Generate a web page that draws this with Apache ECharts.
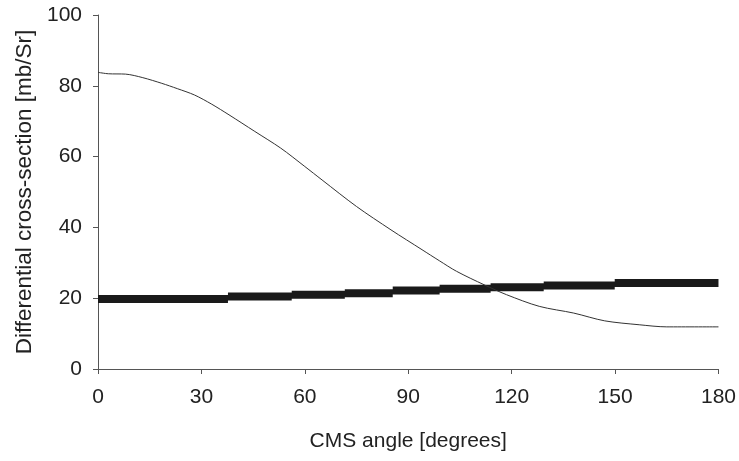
<!DOCTYPE html>
<html>
<head>
<meta charset="utf-8">
<script src="https://cdn.jsdelivr.net/npm/echarts@6/dist/echarts.min.js"></script>
<style>html,body{margin:0;padding:0;background:#fff;}#c{width:739px;height:461px;}</style>
</head>
<body>
<div id="c"></div>
<script>
var xTicks = [0, 30, 60, 90, 120, 150, 180];
var yTicks = [0, 20, 40, 60, 80, 100];
// thin curve: [angle, value]
var curveAngles = [0, 3, 8, 13, 18.5, 23, 28, 33, 38, 45.5, 53, 60, 65, 75, 85, 94, 99, 104, 112, 118.5, 128, 138, 147, 157, 165, 180];
var curveValues = [83.8, 83.4, 83.3, 82.3, 80.7, 79.2, 77.4, 74.8, 71.8, 67.1, 62.4, 57.2, 53.4, 45.9, 39.3, 33.7, 30.6, 27.6, 23.8, 21.0, 17.7, 15.8, 13.6, 12.5, 11.9, 11.9];
// thick stepped line: bin edges (angles) and level in each bin
var binEdges = [0, 37.7, 56.2, 71.6, 85.5, 99.1, 113.9, 129.3, 149.9, 180];
var binValues = [19.8, 20.5, 21.0, 21.4, 22.2, 22.7, 23.1, 23.6, 24.3];

var curveData = curveAngles.map(function (a, i) { return [a, curveValues[i]]; });
var stepData = [];
binValues.forEach(function (v, i) {
  stepData.push([binEdges[i], v]);
  stepData.push([binEdges[i + 1], v]);
  if (i < binValues.length - 1) stepData.push([binEdges[i + 1], null]);
});

var chart = echarts.init(document.getElementById('c'));
var font = 'Liberation Sans, Arial, sans-serif';
chart.setOption({
  animation: false,
  backgroundColor: '#fff',
  grid: { left: 98, right: 19, top: 15, bottom: 92 },
  xAxis: {
    type: 'value', min: 0, max: 180, interval: 30,
    name: 'CMS angle [degrees]', nameLocation: 'middle', nameGap: 62,
    nameTextStyle: { fontFamily: font, fontSize: 21, color: '#222' },
    axisLine: { show: true, lineStyle: { color: '#555', width: 1 } },
    axisTick: { show: true, length: 5, lineStyle: { color: '#555' } },
    axisLabel: { fontFamily: font, fontSize: 21, color: '#222', margin: 18 },
    splitLine: { show: false }
  },
  yAxis: {
    type: 'value', min: 0, max: 100, interval: 20,
    name: 'Differential cross-section [mb/Sr]', nameLocation: 'middle', nameGap: 62, nameRotate: 90,
    nameTextStyle: { fontFamily: font, fontSize: 22.5, color: '#222' },
    axisLine: { show: true, lineStyle: { color: '#555', width: 1 } },
    axisTick: { show: true, length: 5, lineStyle: { color: '#555' } },
    axisLabel: { fontFamily: font, fontSize: 21, color: '#222', margin: 16 },
    splitLine: { show: false }
  },
  series: [
    {
      type: 'line', data: stepData, symbol: 'none', connectNulls: false,
      lineStyle: { color: '#1a1a1a', width: 8, cap: 'butt', join: 'miter' }, z: 2
    },
    {
      type: 'line', data: curveData, smooth: 0.3, symbol: 'none',
      lineStyle: { color: '#333', width: 1 }, z: 3
    }
  ]
});
</script>
</body>
</html>
